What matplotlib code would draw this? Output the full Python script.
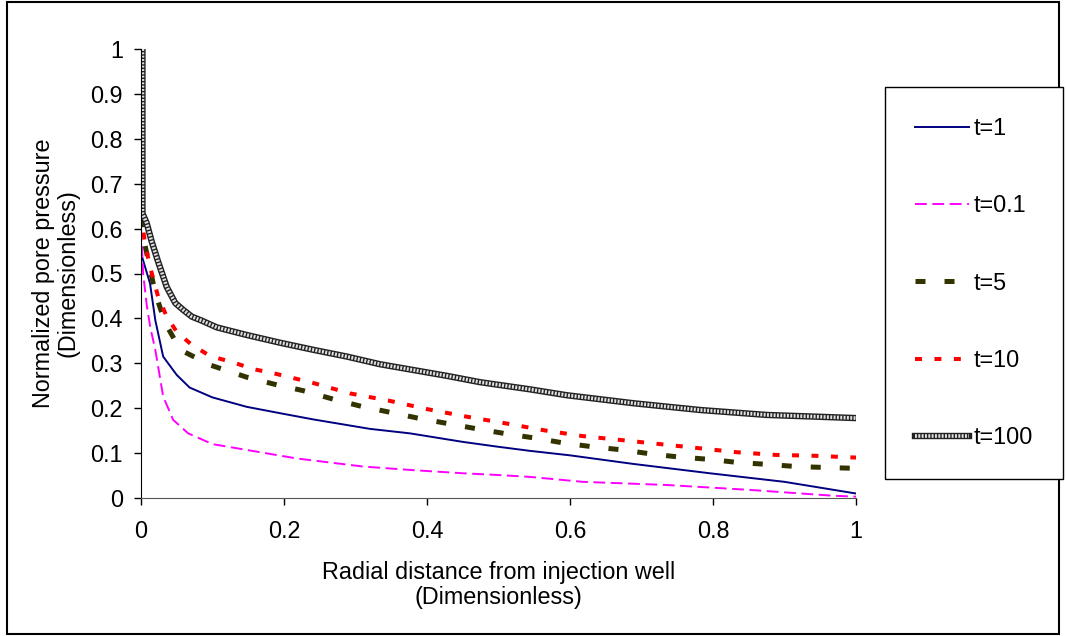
import matplotlib
matplotlib.use('Agg')
import matplotlib.pyplot as plt
from matplotlib.patches import Rectangle
from matplotlib.legend_handler import HandlerTuple

plt.rcParams['font.family'] = ['Liberation Sans', 'DejaVu Sans']
plt.rcParams['font.size'] = 16.8
plt.rcParams['lines.scale_dashes'] = False

# values
x_t1 = [0, 0.0126, 0.02, 0.031, 0.05, 0.068, 0.1, 0.148, 0.194, 0.241, 0.32, 0.376, 0.45, 0.5, 0.544, 0.6, 0.688, 0.796, 0.9, 1.0]
y_t1 = [0.545, 0.478, 0.396, 0.315, 0.274, 0.246, 0.224, 0.203, 0.189, 0.175, 0.154, 0.144, 0.125, 0.114, 0.105, 0.095, 0.076, 0.055, 0.036, 0.01]

x_t01 = [0, 0.003, 0.008, 0.013, 0.02, 0.031, 0.045, 0.066, 0.1, 0.148, 0.218, 0.311, 0.381, 0.451, 0.502, 0.544, 0.618, 0.735, 0.852, 0.968, 1.0]
y_t01 = [0.6, 0.5, 0.43, 0.38, 0.33, 0.226, 0.174, 0.144, 0.12, 0.107, 0.088, 0.07, 0.062, 0.055, 0.051, 0.047, 0.036, 0.029, 0.018, 0.005, 0.003]

x_t5 = [0, 0.002, 0.0056, 0.0126, 0.02, 0.034, 0.055, 0.097, 0.148, 0.19, 0.227, 0.269, 0.311, 0.348, 0.39, 0.432, 0.47, 0.511, 0.553, 0.593, 0.632, 0.674, 0.714, 0.754, 0.796, 0.835, 0.875, 0.917, 0.957, 1.0]
y_t5 = [0.69, 0.623, 0.563, 0.511, 0.456, 0.389, 0.33, 0.296, 0.269, 0.252, 0.239, 0.22, 0.203, 0.191, 0.177, 0.165, 0.154, 0.143, 0.133, 0.122, 0.114, 0.107, 0.098, 0.091, 0.086, 0.079, 0.075, 0.07, 0.068, 0.066]

x_t10 = [0, 0.0056, 0.0126, 0.024, 0.036, 0.05, 0.071, 0.097, 0.129, 0.157, 0.185, 0.239, 0.292, 0.346, 0.4, 0.456, 0.511, 0.563, 0.617, 0.672, 0.726, 0.78, 0.833, 0.887, 0.943, 1.0]
y_t10 = [0.634, 0.567, 0.515, 0.448, 0.404, 0.37, 0.341, 0.316, 0.302, 0.287, 0.278, 0.257, 0.233, 0.217, 0.198, 0.181, 0.166, 0.151, 0.138, 0.129, 0.12, 0.111, 0.102, 0.096, 0.094, 0.09]

x_t100 = [0.002, 0.002, 0.008, 0.015, 0.024, 0.036, 0.048, 0.059, 0.071, 0.085, 0.106, 0.148, 0.194, 0.241, 0.288, 0.334, 0.381, 0.428, 0.474, 0.544, 0.595, 0.689, 0.782, 0.875, 1.0]
y_t100 = [1.0, 0.634, 0.612, 0.571, 0.526, 0.47, 0.434, 0.419, 0.404, 0.395, 0.38, 0.363, 0.346, 0.33, 0.315, 0.298, 0.285, 0.272, 0.258, 0.242, 0.229, 0.211, 0.196, 0.185, 0.178]

x_ticks = [0, 0.2, 0.4, 0.6, 0.8, 1]
x_tick_labels = ['0', '0.2', '0.4', '0.6', '0.8', '1']
y_ticks = [0, 0.1, 0.2, 0.3, 0.4, 0.5, 0.6, 0.7, 0.8, 0.9, 1]
y_tick_labels = ['0', '0.1', '0.2', '0.3', '0.4', '0.5', '0.6', '0.7', '0.8', '0.9', '1']

fig = plt.figure(figsize=(10.66, 6.36), dpi=100)
ax = fig.add_axes([141/1066, 138/636, 715/1066, 449/636])

l1, = ax.plot(x_t1, y_t1, color='#000080', lw=1.4)
l2, = ax.plot(x_t01, y_t01, color='#FF00FF', lw=1.4, dashes=(8.5, 4))
l3, = ax.plot(x_t5, y_t5, color='#333300', lw=3.6, dashes=(7.2, 13.7))
l4, = ax.plot(x_t10, y_t10, color='#FF0000', lw=2.9, dashes=(5, 9))
l5a, = ax.plot(x_t100, y_t100, color='#222222', lw=4.6, solid_joinstyle='round')
l5b, = ax.plot(x_t100, y_t100, color='#e0e0e0', lw=2.6, dashes=(1.4, 1.0))

ax.set_xlim(0, 1)
ax.set_ylim(0, 1)
ax.set_xticks(x_ticks)
ax.set_xticklabels(x_tick_labels)
ax.set_yticks(y_ticks)
ax.set_yticklabels(y_tick_labels)
ax.tick_params(direction='out', length=5, width=1)
ax.tick_params(axis='y', pad=8)
ax.tick_params(axis='x', pad=11)
ax.spines['top'].set_visible(False)
ax.spines['right'].set_visible(False)
ax.spines['left'].set_color('black')
ax.spines['bottom'].set_color('#555555')

ax.set_xlabel('Radial distance from injection well\n(Dimensionless)', linespacing=1.1, labelpad=13)
ax.set_ylabel('Normalized pore pressure\n(Dimensionless)', linespacing=1.1, labelpad=8)

leg = fig.legend([l1, l2, l3, l4, (l5a, l5b)], ['t=1', 't=0.1', 't=5', 't=10', 't=100'],
                 handler_map={tuple: HandlerTuple(ndivide=1)},
                 loc='upper left', bbox_to_anchor=(885/1066, 1 - 87/636),
                 frameon=True, fancybox=False, framealpha=1, edgecolor='black',
                 borderpad=1.3, labelspacing=2.32, handlelength=2.3, handletextpad=0.2,
                 borderaxespad=0)
leg.get_frame().set_linewidth(1.0)

fig.patches.append(Rectangle((7/1066, 2/636), 1052/1066, 632/636, transform=fig.transFigure,
                             fill=False, edgecolor='black', lw=1.5))

fig.savefig('out.png', dpi=100)
